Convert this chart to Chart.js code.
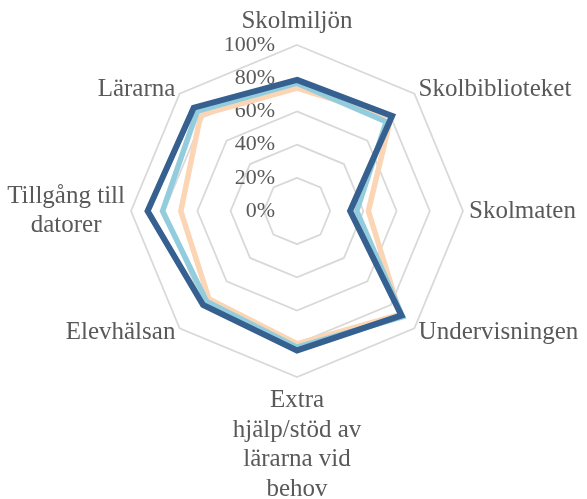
<!DOCTYPE html>
<html>
<head>
<meta charset="utf-8">
<script src="https://cdn.jsdelivr.net/npm/chart.js@4/dist/chart.umd.min.js"></script>
<style>
  html, body { margin: 0; padding: 0; background: #fff; }
  #wrap { width: 587px; height: 499px; }
</style>
</head>
<body>
<div id="wrap"><canvas id="radar"></canvas></div>
<script>
// axis categories, clockwise from the top
const categories = [
  'Skolmiljön',
  'Skolbiblioteket',
  'Skolmaten',
  'Undervisningen',
  ['Extra', 'hjälp/stöd av', 'lärarna vid', 'behov'],
  'Elevhälsan',
  ['Tillgång till', 'datorer'],
  'Lärarna'
];

// share of positive answers, in %
const seriesDark  = [79, 81, 32, 89, 84, 80, 90, 88];
const seriesLight = [77, 76, 36, 90, 82, 77, 81, 85];
const seriesPeach = [74, 80, 43, 88, 80, 75, 70, 82];

const tickValues = [0, 20, 40, 60, 80, 100];

const textColor = '#595959';
const serif = '"Liberation Serif", "DejaVu Serif", serif';

// tick labels sit left of the vertical axis, right aligned
const tickLabels = {
  id: 'tickLabels',
  beforeDatasetsDraw(chart) {
    const scale = chart.scales.r;
    const ctx = chart.ctx;
    ctx.save();
    ctx.font = '22px ' + serif;
    ctx.fillStyle = textColor;
    ctx.textAlign = 'right';
    ctx.textBaseline = 'middle';
    scale.ticks.forEach(t => {
      const p = scale.getPointPosition(0, scale.getDistanceFromCenterForValue(t.value));
      ctx.fillText(t.value + '%', p.x - 22, p.y);
    });
    ctx.restore();
  }
};

// category labels, placed like the spreadsheet does it
const axisLabels = {
  id: 'axisLabels',
  afterDraw(chart) {
    const scale = chart.scales.r;
    const ctx = chart.ctx;
    const lineH = 29.5;
    ctx.save();
    ctx.font = '25px ' + serif;
    ctx.fillStyle = textColor;
    ctx.textBaseline = 'middle';
    categories.forEach((lab, i) => {
      const lines = Array.isArray(lab) ? lab : [lab];
      const p = scale.getPointPosition(i, scale.drawingArea + 6);
      const dx = p.x - scale.xCenter;
      const dy = p.y - scale.yCenter;
      const blockW = Math.max(...lines.map(l => ctx.measureText(l).width));
      const blockH = lines.length * lineH;
      let cx, top;
      if (Math.abs(dx) < 1) {
        cx = p.x;
        top = dy < 0 ? p.y - blockH - 3 : p.y + 3;
      } else {
        cx = dx > 0 ? p.x + blockW / 2 : p.x - blockW / 2;
        top = p.y - blockH / 2;
      }
      ctx.textAlign = 'center';
      lines.forEach((l, k) => ctx.fillText(l, cx, top + lineH * (k + 0.5)));
    });
    ctx.restore();
  }
};

const ctx = document.getElementById('radar');
new Chart(ctx, {
  type: 'radar',
  data: {
    labels: categories,
    datasets: [
      { label: 'Serie 3', data: seriesDark,  borderColor: '#35608f', borderWidth: 6 },
      { label: 'Serie 2', data: seriesLight, borderColor: '#93cddd', borderWidth: 5.5 },
      { label: 'Serie 1', data: seriesPeach, borderColor: '#fcd5b4', borderWidth: 5.5 }
    ]
  },
  options: {
    responsive: true,
    maintainAspectRatio: false,
    animation: false,
    layout: { padding: { top: 45, bottom: 122, left: 60, right: 53 } },
    elements: {
      line: { fill: false, tension: 0, borderJoinStyle: 'miter' },
      point: { radius: 0, hoverRadius: 0 }
    },
    plugins: {
      legend: { display: false },
      tooltip: { enabled: false }
    },
    scales: {
      r: {
        min: 0,
        max: 100,
        ticks: { display: false, stepSize: 20 },
        afterBuildTicks: (scale) => { scale.ticks = tickValues.map(v => ({ value: v })); },
        grid: { color: '#d9d9d9', lineWidth: 1.8, circular: false },
        angleLines: { display: false },
        pointLabels: { display: false }
      }
    }
  },
  plugins: [tickLabels, axisLabels]
});
</script>
</body>
</html>
